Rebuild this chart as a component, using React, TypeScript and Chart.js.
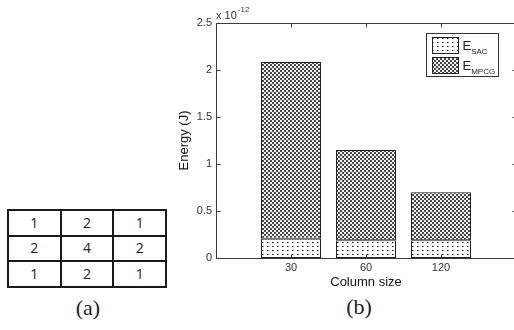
import React, { useEffect, useRef } from "react";
import { Chart, registerables } from "chart.js";

Chart.register(...registerables);

// ---- data ----
const categories = ["30", "60", "120"];
const seriesSAC = [0.205, 0.188, 0.188]; // x 1e-12 J
const seriesMPCG = [1.88, 0.961, 0.511]; // x 1e-12 J
const yTicks = [0, 0.5, 1, 1.5, 2, 2.5];
const legendNames = ["SAC", "MPCG"];
const kernel = [
  [1, 2, 1],
  [2, 4, 2],
  [1, 2, 1],
];

const SANS = '"Liberation Sans", Arial, sans-serif';

function makeDots(): CanvasPattern | string {
  const c = document.createElement("canvas");
  c.width = 5;
  c.height = 4;
  const g = c.getContext("2d");
  if (!g) return "#fff";
  g.fillStyle = "#ffffff";
  g.fillRect(0, 0, 5, 4);
  g.fillStyle = "#000000";
  g.fillRect(2, 2, 1, 1);
  g.fillStyle = "#8a8a8a";
  g.fillRect(3, 2, 1, 1);
  return g.createPattern(c, "repeat") || "#fff";
}

function makeHatch(): CanvasPattern | string {
  const c = document.createElement("canvas");
  c.width = 4;
  c.height = 4;
  const g = c.getContext("2d");
  if (!g) return "#999";
  g.fillStyle = "#f2f2f2";
  g.fillRect(0, 0, 4, 4);
  g.fillStyle = "#4a4a4a";
  g.fillRect(0, 0, 2, 2);
  g.fillRect(2, 2, 2, 2);
  return g.createPattern(c, "repeat") || "#999";
}

export default function App() {
  const ref = useRef<HTMLCanvasElement | null>(null);

  useEffect(() => {
    const canvas = ref.current;
    if (!canvas) return;
    const dots = makeDots();
    const hatch = makeHatch();
    const fills = [dots, hatch];

    const framePlugin = {
      id: "frame",
      afterDraw(chart: any) {
        const { ctx, chartArea: a, scales } = chart;
        const xs = scales.x;
        const ys = scales.y;
        ctx.save();
        ctx.strokeStyle = "#3c3c3c";
        ctx.lineWidth = 1;
        const L = Math.round(a.left) + 0.5;
        const T = Math.round(a.top) + 0.5;
        const R = Math.round(a.right) + 0.5;
        const B = Math.round(a.bottom) + 0.5;
        ctx.strokeRect(L, T, R - L, B - T);
        ctx.beginPath();
        for (const v of yTicks) {
          const py = Math.round(ys.getPixelForValue(v)) + 0.5;
          ctx.moveTo(L, py);
          ctx.lineTo(L + 4, py);
          ctx.moveTo(R, py);
          ctx.lineTo(R - 4, py);
        }
        categories.forEach((_, i) => {
          const px = Math.round(xs.getPixelForValue(i + 1)) + 0.5;
          ctx.moveTo(px, B);
          ctx.lineTo(px, B - 4);
          ctx.moveTo(px, T);
          ctx.lineTo(px, T + 4);
        });
        ctx.stroke();

        // exponent label
        ctx.fillStyle = "#333";
        ctx.textAlign = "left";
        ctx.textBaseline = "alphabetic";
        ctx.font = `11px ${SANS}`;
        ctx.fillText("x 10", a.left, a.top - 4);
        const w = ctx.measureText("x 10").width;
        ctx.font = `8px ${SANS}`;
        ctx.fillText("-12", a.left + w + 1, a.top - 11);

        // legend
        const bx = Math.round(a.right - 90) + 0.5;
        const by = Math.round(a.top + 10) + 0.5;
        const bw = 72;
        const bh = 43;
        ctx.fillStyle = "#ffffff";
        ctx.fillRect(bx, by, bw, bh);
        ctx.strokeStyle = "#333";
        ctx.strokeRect(bx, by, bw, bh);
        legendNames.forEach((name, i) => {
          const sy = by + 4 + i * 20;
          ctx.fillStyle = fills[i] as any;
          ctx.fillRect(bx + 6, sy, 26, 16);
          ctx.strokeStyle = "#222";
          ctx.strokeRect(bx + 6, sy, 26, 16);
          ctx.fillStyle = "#222";
          ctx.font = `13px ${SANS}`;
          ctx.fillText("E", bx + 36, sy + 12);
          const ew = ctx.measureText("E").width;
          ctx.font = `8px ${SANS}`;
          ctx.fillText(name, bx + 36 + ew, sy + 16);
        });
        ctx.restore();
      },
    };

    const chart = new Chart(canvas, {
      type: "bar",
      data: {
        datasets: [
          {
            label: "E_SAC",
            data: seriesSAC.map((v, i) => ({ x: i + 1, y: v })),
            backgroundColor: dots as any,
            borderColor: "#222",
            borderWidth: 1,
            borderSkipped: false,
            barPercentage: 0.8,
            categoryPercentage: 1,
          },
          {
            label: "E_MPCG",
            data: seriesMPCG.map((v, i) => ({ x: i + 1, y: v })),
            backgroundColor: hatch as any,
            borderColor: "#222",
            borderWidth: 1,
            borderSkipped: false,
            barPercentage: 0.8,
            categoryPercentage: 1,
          },
        ],
      },
      options: {
        responsive: false,
        animation: false,
        layout: { padding: { top: 23, right: 4, left: 0, bottom: 0 } },
        plugins: { legend: { display: false }, tooltip: { enabled: false } },
        scales: {
          x: {
            type: "linear",
            min: 0,
            max: 4,
            offset: false,
            stacked: true,
            grid: { display: false, drawTicks: false, offset: false },
            border: { display: false },
            afterBuildTicks: (s: any) => {
              s.ticks = categories.map((_, i) => ({ value: i + 1 }));
            },
            afterFit: (s: any) => {
              s.height = 72;
            },
            ticks: {
              callback: (v: any) => categories[Math.round(Number(v)) - 1] ?? "",
              padding: 3,
              color: "#333",
              font: { family: SANS, size: 11 },
              maxRotation: 0,
              autoSkip: false,
            },
            title: {
              display: true,
              text: "Column size",
              color: "#111",
              font: { family: SANS, size: 13 },
              padding: { top: 0, bottom: 40 },
            },
          },
          y: {
            type: "linear",
            min: 0,
            max: 2.5,
            stacked: true,
            grid: { display: false, drawTicks: false },
            border: { display: false },
            afterBuildTicks: (s: any) => {
              s.ticks = yTicks.map((v) => ({ value: v }));
            },
            afterFit: (s: any) => {
              s.width = 46;
            },
            ticks: {
              callback: (v: any) => String(Number(v)),
              padding: 4,
              color: "#333",
              font: { family: SANS, size: 11 },
            },
            title: {
              display: true,
              text: "Energy (J)",
              color: "#111",
              font: { family: SANS, size: 13 },
              padding: { top: 7, bottom: 0 },
            },
          },
        },
      },
      plugins: [framePlugin],
    } as any);

    return () => chart.destroy();
  }, []);

  return (
    <div
      style={{
        position: "fixed",
        left: 0,
        top: 0,
        width: 514,
        height: 330,
        overflow: "hidden",
        background: "#fff",
      }}
    >
      <table
        style={{
          position: "absolute",
          left: 7,
          top: 209,
          width: 160,
          height: 79,
          borderCollapse: "collapse",
          fontFamily: '"Open Sans", "Noto Sans", sans-serif',
          fontSize: 14,
          color: "#222",
        }}
      >
        <tbody>
          {kernel.map((row, r) => (
            <tr key={r}>
              {row.map((v, c) => (
                <td
                  key={c}
                  style={{
                    border: "2px solid #1a1a1a",
                    textAlign: "center",
                    padding: 0,
                    width: "33.3%",
                    lineHeight: "22px",
                  }}
                >
                  {v}
                </td>
              ))}
            </tr>
          ))}
        </tbody>
      </table>
      <div
        style={{
          position: "absolute",
          left: 58,
          top: 295,
          width: 60,
          textAlign: "center",
          font: '22px "Liberation Serif", serif',
          lineHeight: "26px",
          color: "#222",
        }}
      >
        (a)
      </div>
      <div
        style={{
          position: "absolute",
          left: 329,
          top: 294,
          width: 60,
          textAlign: "center",
          font: '22px "Liberation Serif", serif',
          lineHeight: "26px",
          color: "#222",
        }}
      >
        (b)
      </div>
      <canvas
        ref={ref}
        width={350}
        height={330}
        style={{ position: "absolute", left: 170, top: 0, width: 350, height: 330 }}
      />
    </div>
  );
}
